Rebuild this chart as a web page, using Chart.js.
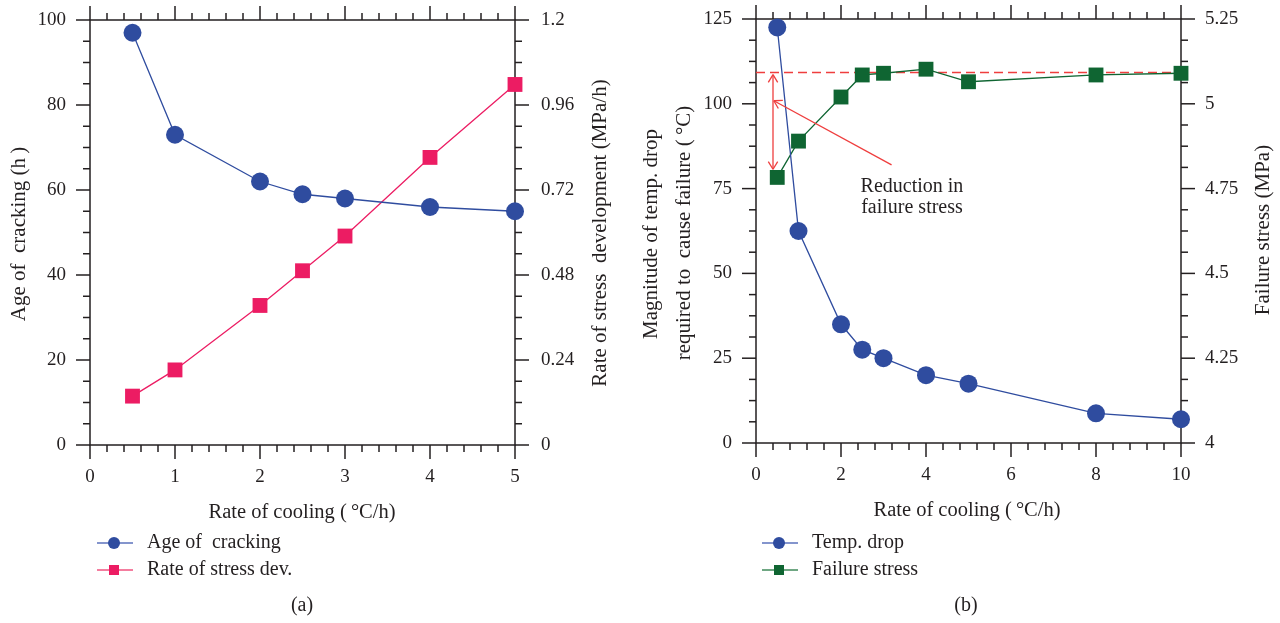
<!DOCTYPE html>
<html>
<head>
<meta charset="utf-8">
<script src="https://cdn.jsdelivr.net/npm/chart.js@4.4.1/dist/chart.umd.min.js"></script>
<style>
html, body { margin: 0; padding: 0; background: #fff; }
#wrap { position: relative; width: 1280px; height: 623px; }
canvas { position: absolute; top: 0; }
#chartA { left: 0; }
#chartB { left: 640px; }
</style>
</head>
<body>
<div id="wrap">
  <canvas id="chartA" width="640" height="623"></canvas>
  <canvas id="chartB" width="640" height="623"></canvas>
</div>
<script>
// ---- panel (a) data ----
const coolingA = [0.5, 1, 2, 2.5, 3, 4, 5];
const crackAge = [97, 73, 62, 59, 58, 56, 55];
const stressRate = [0.138, 0.212, 0.394, 0.492, 0.59, 0.812, 1.018];
const ticksAX = [0, 1, 2, 3, 4, 5];
const ticksAY = [0, 20, 40, 60, 80, 100];
const ticksAY2 = [0, 0.24, 0.48, 0.72, 0.96, 1.2];
const labelsAY2 = ['0', '0.24', '0.48', '0.72', '0.96', '1.2'];

// ---- panel (b) data ----
const coolingB = [0.5, 1, 2, 2.5, 3, 4, 5, 8, 10];
const tempDrop = [122.5, 62.5, 35, 27.5, 25, 20, 17.5, 8.75, 7];
const failStress = [4.783, 4.89, 5.02, 5.085, 5.09, 5.102, 5.065, 5.085, 5.09];
const ticksBX = [0, 2, 4, 6, 8, 10];
const ticksBY = [0, 25, 50, 75, 100, 125];
const ticksBY2 = [4, 4.25, 4.5, 4.75, 5, 5.25];
const labelsBY2 = ['4', '4.25', '4.5', '4.75', '5', '5.25'];
const refX = [0, 10];
const refStress = [5.092, 5.092];
// annotation (in x / left-axis units)
const dropArrowX = 0.4;
const dropArrowY = [108.6, 80.7];
const pointerFrom = [3.19, 82];
const pointerTo = [0.42, 100.9];
const noteX = 3.67;
const noteY = [75.5, 69.3];
const noteLines = ['Reduction in', 'failure stress'];

const FAMILY = '"Liberation Serif", "Times New Roman", serif';
const INK = '#231f20';
const BLUE = '#2f4c9f';
const PINK = '#ec1c63';
const GREEN = '#0f6532';
const RED = '#ef3e3e';

function range(a, b, step) {
    const out = [];
    for (let k = 0; a + k * step <= b + 1e-9; k++) out.push(+(a + k * step).toFixed(6));
    return out;
}

function pts(xs, ys) {
    return xs.map((x, i) => ({ x: x, y: ys[i] }));
}

function yAxis(pos, min, max, ticks, labels, width, pad) {
    return {
        type: 'linear', position: pos, min: min, max: max,
        afterBuildTicks: s => { s.ticks = ticks.map(v => ({ value: v })); },
        afterFit: s => { s.width = width; s.paddingTop = 0; s.paddingBottom = 0; },
        grid: { display: false, drawTicks: false },
        border: { display: false },
        ticks: {
            padding: pad, color: INK, font: { family: FAMILY, size: 19 },
            callback: (v, i) => labels[i]
        }
    };
}

function xAxis(min, max, ticks, height) {
    return {
        type: 'linear', position: 'bottom', min: min, max: max,
        afterBuildTicks: s => { s.ticks = ticks.map(v => ({ value: v })); },
        afterFit: s => { s.height = height; s.paddingLeft = 0; s.paddingRight = 0; },
        grid: { display: false, drawTicks: false },
        border: { display: false },
        ticks: {
            padding: 21, color: INK, maxRotation: 0, autoSkip: false,
            font: { family: FAMILY, size: 19 },
            callback: (v, i) => String(ticks[i])
        }
    };
}

function drawText(ctx, str, x, y, rotate, align, size) {
    ctx.save();
    ctx.translate(x, y);
    if (rotate) ctx.rotate(-Math.PI / 2);
    ctx.font = (size || 20) + 'px ' + FAMILY;
    ctx.fillStyle = INK;
    ctx.textAlign = align || 'center';
    ctx.textBaseline = 'middle';
    ctx.fillText(str, 0, 0);
    ctx.restore();
}

function line(ctx, x1, y1, x2, y2) {
    ctx.beginPath();
    ctx.moveTo(x1, y1);
    ctx.lineTo(x2, y2);
    ctx.stroke();
}

// frame with outward major/minor ticks on all four sides
function framePlugin(cfg) {
    return {
        id: 'frame',
        beforeDatasetsDraw(chart) {
            const ctx = chart.ctx, a = chart.chartArea;
            const sx = chart.scales.x, sy = chart.scales.y, sy2 = chart.scales.y2;
            ctx.save();
            ctx.strokeStyle = INK;
            ctx.lineWidth = 1.5;
            ctx.strokeRect(a.left, a.top, a.right - a.left, a.bottom - a.top);
            cfg.xMinor.forEach(v => {
                const p = sx.getPixelForValue(v);
                const len = cfg.xMajor.includes(v) ? 14 : 7;
                line(ctx, p, a.bottom, p, a.bottom + len);
                line(ctx, p, a.top, p, a.top - len);
            });
            cfg.yMinor.forEach(v => {
                const p = sy.getPixelForValue(v);
                const len = cfg.yMajor.includes(v) ? 14 : 7;
                line(ctx, a.left, p, a.left - len, p);
            });
            cfg.y2Minor.forEach(v => {
                const p = sy2.getPixelForValue(v);
                const len = cfg.y2Major.includes(v) ? 14 : 7;
                line(ctx, a.right, p, a.right + len, p);
            });
            ctx.restore();
        },
        afterDraw(chart) {
            const ctx = chart.ctx;
            cfg.titles.forEach(t => drawText(ctx, t.text, t.x, t.y, t.rot, 'center', t.rot ? 21 : 20.5));
            // legend
            cfg.legend.forEach((e, i) => {
                const y = cfg.legendY + i * 27;
                ctx.save();
                ctx.strokeStyle = e.line;
                ctx.lineWidth = 1.4;
                line(ctx, cfg.legendX, y, cfg.legendX + 36, y);
                ctx.fillStyle = e.color;
                const cx = cfg.legendX + 17;
                if (e.shape === 'circle') {
                    ctx.beginPath();
                    ctx.arc(cx, y, 6, 0, Math.PI * 2);
                    ctx.fill();
                } else {
                    ctx.fillRect(cx - 5, y - 5, 10, 10);
                }
                ctx.restore();
                drawText(ctx, e.text, cfg.legendX + 50, y, false, 'left');
            });
            drawText(ctx, cfg.caption, cfg.captionX, 606);
        }
    };
}

function arrowHead(ctx, tipX, tipY, fromX, fromY) {
    const ang = Math.atan2(tipY - fromY, tipX - fromX);
    const len = 9, spread = 0.55;
    line(ctx, tipX, tipY, tipX - len * Math.cos(ang - spread), tipY - len * Math.sin(ang - spread));
    line(ctx, tipX, tipY, tipX - len * Math.cos(ang + spread), tipY - len * Math.sin(ang + spread));
}

const notePlugin = {
    id: 'note',
    afterDatasetsDraw(chart) {
        const ctx = chart.ctx, sx = chart.scales.x, sy = chart.scales.y;
        ctx.save();
        ctx.strokeStyle = RED;
        ctx.lineWidth = 1.3;
        const ax = sx.getPixelForValue(dropArrowX);
        const t = sy.getPixelForValue(dropArrowY[0]);
        const b = sy.getPixelForValue(dropArrowY[1]);
        line(ctx, ax, t, ax, b);
        arrowHead(ctx, ax, t, ax, b);
        arrowHead(ctx, ax, b, ax, t);
        const fx = sx.getPixelForValue(pointerFrom[0]), fy = sy.getPixelForValue(pointerFrom[1]);
        const tx = sx.getPixelForValue(pointerTo[0]), ty = sy.getPixelForValue(pointerTo[1]);
        line(ctx, fx, fy, tx, ty);
        arrowHead(ctx, tx, ty, fx, fy);
        ctx.restore();
        noteLines.forEach((s, i) => drawText(ctx, s, sx.getPixelForValue(noteX), sy.getPixelForValue(noteY[i])));
    }
};

// ---- chart (a) ----
new Chart(document.getElementById('chartA'), {
    type: 'line',
    data: {
        datasets: [{
            label: 'Age of cracking',
            data: pts(coolingA, crackAge),
            yAxisID: 'y',
            borderColor: BLUE, borderWidth: 1.3,
            pointStyle: 'circle', pointRadius: 9,
            pointBackgroundColor: BLUE, pointBorderWidth: 0,
            clip: false
        }, {
            label: 'Rate of stress dev.',
            data: pts(coolingA, stressRate),
            yAxisID: 'y2',
            borderColor: PINK, borderWidth: 1.3,
            pointStyle: 'rect', pointRadius: 10.5,
            pointBackgroundColor: PINK, pointBorderWidth: 0,
            clip: false
        }]
    },
    options: {
        responsive: false, animation: false, devicePixelRatio: 1,
        layout: { padding: { top: 20, left: 0, right: 0, bottom: 0 } },
        plugins: { legend: { display: false }, tooltip: { enabled: false } },
        scales: {
            x: xAxis(0, 5, ticksAX, 178),
            y: yAxis('left', 0, 100, ticksAY, ticksAY.map(String), 90, 24),
            y2: yAxis('right', 0, 1.2, ticksAY2, labelsAY2, 125, 26)
        }
    },
    plugins: [framePlugin({
        xMajor: ticksAX, xMinor: range(0, 5, 0.2),
        yMajor: ticksAY, yMinor: range(0, 100, 5),
        y2Major: ticksAY2, y2Minor: range(0, 1.2, 0.06),
        titles: [
            { text: 'Age of  cracking (h\u2009)', x: 19, y: 234, rot: true },
            { text: 'Rate of stress  development (MPa/h)', x: 600, y: 233, rot: true },
            { text: 'Rate of cooling (\u2009°C/h)', x: 302, y: 513 }
        ],
        legendX: 97, legendY: 543,
        legend: [
            { text: 'Age of  cracking', color: BLUE, line: '#5b72bd', shape: 'circle' },
            { text: 'Rate of stress dev.', color: PINK, line: '#f0527f', shape: 'rect' }
        ],
        caption: '(a)', captionX: 302
    })]
});

// ---- chart (b) ----
new Chart(document.getElementById('chartB'), {
    type: 'line',
    data: {
        datasets: [{
            label: 'Temp. drop',
            data: pts(coolingB, tempDrop),
            yAxisID: 'y',
            borderColor: BLUE, borderWidth: 1.3,
            pointStyle: 'circle', pointRadius: 9,
            pointBackgroundColor: BLUE, pointBorderWidth: 0,
            clip: false
        }, {
            label: 'Failure stress',
            data: pts(coolingB, failStress),
            yAxisID: 'y2',
            borderColor: GREEN, borderWidth: 1.3,
            pointStyle: 'rect', pointRadius: 10.5,
            pointBackgroundColor: GREEN, pointBorderWidth: 0,
            clip: false
        }, {
            label: 'reference',
            data: pts(refX, refStress),
            yAxisID: 'y2',
            borderColor: RED, borderWidth: 1.5, borderDash: [9, 5],
            pointRadius: 0,
            clip: false
        }]
    },
    options: {
        responsive: false, animation: false, devicePixelRatio: 1,
        layout: { padding: { top: 19, left: 0, right: 0, bottom: 0 } },
        plugins: { legend: { display: false }, tooltip: { enabled: false } },
        scales: {
            x: xAxis(0, 10, ticksBX, 180),
            y: yAxis('left', 0, 125, ticksBY, ticksBY.map(String), 116, 24),
            y2: yAxis('right', 4, 5.25, ticksBY2, labelsBY2, 99, 24)
        }
    },
    plugins: [framePlugin({
        xMajor: ticksBX, xMinor: range(0, 10, 0.4),
        yMajor: ticksBY, yMinor: range(0, 125, 6.25),
        y2Major: ticksBY2, y2Minor: range(4, 5.25, 0.0625),
        titles: [
            { text: 'Magnitude of temp. drop', x: 11, y: 234, rot: true },
            { text: 'required to  cause failure (\u2009°C)', x: 44, y: 233, rot: true },
            { text: 'Failure stress (MPa)', x: 623, y: 230, rot: true },
            { text: 'Rate of cooling (\u2009°C/h)', x: 327, y: 511 }
        ],
        legendX: 122, legendY: 543,
        legend: [
            { text: 'Temp. drop', color: BLUE, line: '#5b72bd', shape: 'circle' },
            { text: 'Failure stress', color: GREEN, line: '#3f8a5a', shape: 'rect' }
        ],
        caption: '(b)', captionX: 326
    }), notePlugin]
});
</script>
</body>
</html>
